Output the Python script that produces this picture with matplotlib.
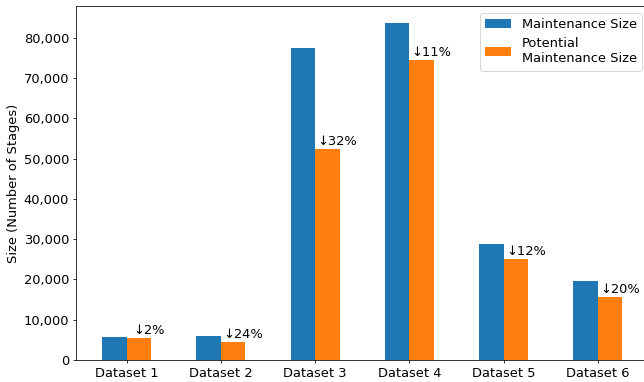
import matplotlib
matplotlib.use("Agg")
import matplotlib.pyplot as plt
import numpy as np
from matplotlib.ticker import FuncFormatter

datasets = ["Dataset 1", "Dataset 2", "Dataset 3", "Dataset 4", "Dataset 5", "Dataset 6"]
maintenance = [5700, 5850, 77500, 83700, 28700, 19700]
potential = [5580, 4450, 52400, 74400, 25200, 15700]

plt.rcParams["font.size"] = 13.4
DPI = 70

fig = plt.figure(figsize=(644 / DPI, 382 / DPI), dpi=DPI)
ax = fig.add_axes([0.118, 0.0576, 0.889, 0.9264])

x = np.arange(len(datasets))
w = 0.26
ax.bar(x - w / 2, maintenance, w, color="#1f77b4", label="Maintenance Size")
ax.bar(x + w / 2, potential, w, color="#ff7f0e", label="Potential\nMaintenance Size")

# percentage drop from maintenance to potential size, above the orange bar
for xi, m, p in zip(x, maintenance, potential):
    drop = round((1 - p / m) * 100)
    ax.text(xi + w / 2 + 0.105, p + 250, f"\u2193{drop}%", ha="center", va="bottom")

ax.set_xticks(x)
ax.set_xticklabels(datasets)
ax.yaxis.set_major_formatter(FuncFormatter(lambda v, _: f"{int(v):,}"))
ax.set_ylabel("Size (Number of Stages)")
ax.legend(loc="upper right")

fig.savefig("out.png", dpi=DPI)
